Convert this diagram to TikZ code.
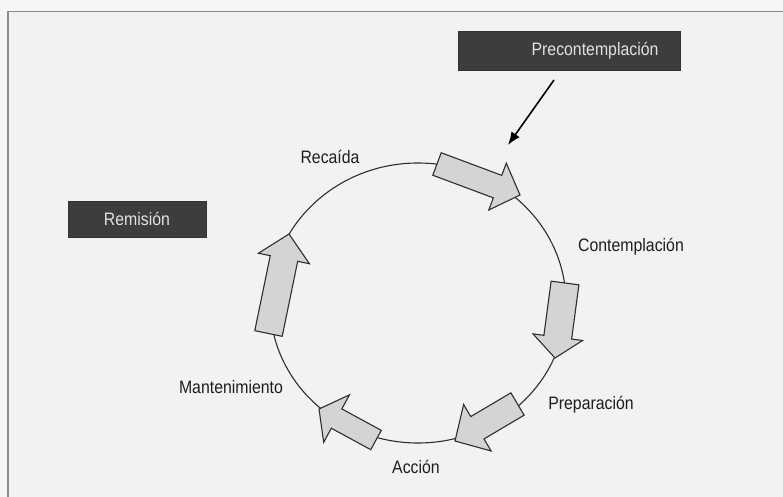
\documentclass[tikz,border=0pt]{standalone}
\usepackage{fontspec}
\setmainfont{Liberation Sans}
\usetikzlibrary{calc,arrows.meta}
\definecolor{bgout}{HTML}{F6F6F6}
\definecolor{bgin}{HTML}{F1F2F1}
\definecolor{boxfill}{HTML}{3D3D3D}
\definecolor{boxtext}{HTML}{E2E2E2}
\definecolor{arrfill}{HTML}{D4D4D4}
\definecolor{arrline}{HTML}{2E2E2E}
\definecolor{framec}{HTML}{8C8C8C}
\definecolor{labc}{HTML}{1E1E1E}
\newcommand\narrowtext[1]{\scalebox{0.88}[1]{#1}}
\newcommand\blockarrow[5]{%
  \coordinate (bT) at (#1);
  \coordinate (bH) at (#2);
  \coordinate (bN) at ($(bH)!#5!(bT)$);
  \draw[stagearrow] ($(bT)!#3!90:(bH)$) -- ($(bN)!#3!-90:(bT)$) -- ($(bN)!#4!-90:(bT)$) -- (bH)
    -- ($(bN)!#4!90:(bT)$) -- ($(bN)!#3!90:(bT)$) -- ($(bT)!#3!-90:(bH)$) -- cycle;}
\begin{document}
\begin{tikzpicture}[x=1pt,y=-1pt,
  stagearrow/.style={fill=arrfill, draw=arrline, line width=1.1pt, line join=miter},
  ring/.style={draw=arrline, line width=1.1pt},
  stagelabel/.style={text=labc, font=\fontsize{18}{21}\selectfont, inner sep=0pt},
  darkbox/.style={fill=boxfill, draw=black!80, line width=0.8pt, inner sep=0pt},
  boxlabel/.style={text=boxtext, font=\fontsize{18}{21}\selectfont, inner sep=0pt},
  pointer/.style={-{Latex[length=13pt,width=10pt]}, line width=1.6pt, draw=black}]
\useasboundingbox (0,0) rectangle (783,497);
\fill[bgout] (0,0) rectangle (783,497);
\fill[bgin] (8,11.5) rectangle (783,497);
\draw[framec, line width=1.5pt] (8,497) -- (8,11.5) -- (783,11.5);
% cycle ring
\draw[ring] (418,303) ellipse [x radius=148pt, y radius=140pt];
% stage arrows
\blockarrow{437,164}{520,195}{12pt}{25pt}{24pt}
\blockarrow{565,283}{555,358}{14pt}{25pt}{21pt}
\blockarrow{517.5,404}{455,441}{13pt}{27pt}{26pt}
\blockarrow{376,440}{319,409}{11pt}{27pt}{20pt}
\blockarrow{268.5,333.5}{289,234}{14pt}{26pt}{25pt}
% labels
\node[stagelabel] (recaida) at (330,157) {\narrowtext{Recaída}};
\node[stagelabel] (contemplacion) at (631,247) {\narrowtext{Contemplación}};
\node[stagelabel] (preparacion) at (591,405) {\narrowtext{Preparación}};
\node[stagelabel] (accion) at (416,467) {\narrowtext{Acción}};
\node[stagelabel] (mantenimiento) at (231,387) {\narrowtext{Mantenimiento}};
% boxes
\node[darkbox, minimum width=138pt, minimum height=36pt] (remisionbox) at (137,219) {};
\node[boxlabel] (remision) at (remisionbox.center) {\narrowtext{Remisión}};
\node[darkbox, minimum width=222pt, minimum height=39pt] (prebox) at (569,51) {};
\node[boxlabel] (pre) at (595,51) {\narrowtext{Precontemplación}};
% pointer
\coordinate (pstart) at (554,80);
\coordinate (ptip) at (508,145);
\draw[pointer] (pstart) -- (ptip);
\end{tikzpicture}
\end{document}
